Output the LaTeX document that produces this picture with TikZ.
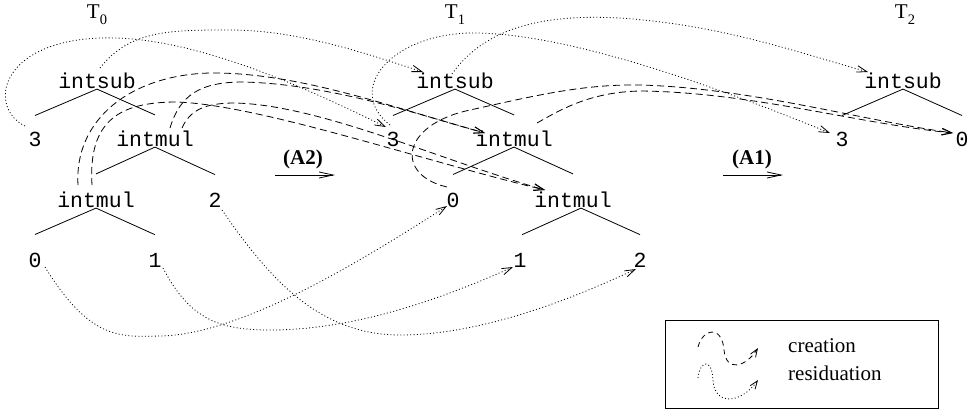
\documentclass[tikz,border=0pt]{standalone}
\usepackage{fontspec}
\setmainfont{Liberation Serif}
\newfontfamily\codefont{Liberation Mono}
\usetikzlibrary{arrows.meta}
\begin{document}
\begin{tikzpicture}[x=1pt,y=-1pt,
  every node/.style={inner sep=0pt,font=\fontsize{21}{25}\selectfont},
  termlabel/.style={font=\codefont\fontsize{21.5}{25}\selectfont},
  treename/.style={font=\fontsize{21}{25}\selectfont},
  rulename/.style={font=\fontsize{21}{25}\selectfont\bfseries},
  branch/.style={line width=0.8pt},
  barbtip/.style={-{Straight Barb[length=10pt,width=6.5pt]}},
  resid/.style={line width=0.8pt,dash pattern=on 1pt off 2.3pt,barbtip},
  creat/.style={line width=0.8pt,dash pattern=on 7pt off 4pt,barbtip},
  rulearrow/.style={line width=0.8pt,-{Straight Barb[length=14pt,width=6pt]}},
]
\useasboundingbox (0,0) rectangle (972,410);

% ---- tree T0 : intsub(3, intmul(intmul(0,1),2))
\node[treename] (T0) at (97,14.5) {T\raisebox{-6pt}{\fontsize{14.5}{14}\selectfont 0}};
\node[termlabel] (t0intsub) at (97,81)  {intsub};
\node[termlabel] (t0three)  at (35,139) {3};
\node[termlabel] (t0mulA)   at (155,139) {intmul};
\node[termlabel] (t0mulB)   at (96,200) {intmul};
\node[termlabel] (t0two)    at (215,200) {2};
\node[termlabel] (t0zero)   at (35,260) {0};
\node[termlabel] (t0one)    at (155,260) {1};
\draw[branch] (t0intsub.south) -- ([yshift=16pt]t0three.north);
\draw[branch] (t0intsub.south) -- ([yshift=16pt]t0mulA.north);
\draw[branch] (t0mulA.south) -- ([yshift=18pt]t0mulB.north);
\draw[branch] (t0mulA.south) -- ([yshift=18pt]t0two.north);
\draw[branch] (t0mulB.south) -- ([yshift=18pt]t0zero.north);
\draw[branch] (t0mulB.south) -- ([yshift=18pt]t0one.north);

% ---- tree T1 : intsub(3, intmul(0, intmul(1,2)))
\node[treename] (T1) at (455,14.5) {T\raisebox{-6pt}{\fontsize{14.5}{14}\selectfont 1}};
\node[termlabel] (t1intsub) at (455,81)  {intsub};
\node[termlabel] (t1three)  at (393,139) {3};
\node[termlabel] (t1mulA)   at (514,139) {intmul};
\node[termlabel] (t1zero)   at (453,200) {0};
\node[termlabel] (t1mulB)   at (573,200) {intmul};
\node[termlabel] (t1one)    at (520,260) {1};
\node[termlabel] (t1two)    at (640,260) {2};
\draw[branch] (t1intsub.south) -- ([yshift=16pt]t1three.north);
\draw[branch] (t1intsub.south) -- ([yshift=16pt]t1mulA.north);
\draw[branch] (t1mulA.south) -- ([yshift=18pt]t1zero.north);
\draw[branch] (t1mulA.south) -- ([yshift=18pt]t1mulB.north);
\draw[branch] ([xshift=8pt]t1mulB.south) -- ([shift={(2,-18)}]t1one.north);
\draw[branch] ([xshift=8pt]t1mulB.south) -- ([yshift=18pt]t1two.north);

% ---- tree T2 : intsub(3, 0)
\node[treename] (T2) at (905,14.5) {T\raisebox{-6pt}{\fontsize{14.5}{14}\selectfont 2}};
\node[termlabel] (t2intsub) at (903,81)  {intsub};
\node[termlabel] (t2three)  at (842,139) {3};
\node[termlabel] (t2zero)   at (962,139) {0};
\draw[branch] (t2intsub.south) -- ([yshift=16pt]t2three.north);
\draw[branch] (t2intsub.south) -- ([yshift=16pt]t2zero.north);

% ---- rewrite steps
\node[rulename] (a2) at (303,159) {(A2)};
\coordinate (a2from) at (275,175);
\coordinate (a2to)   at (335,175);
\draw[rulearrow] (a2from) -- (a2to);
\node[rulename] (a1) at (752,159) {(A1)};
\coordinate (a1from) at (723,175);
\coordinate (a1to)   at (783,175);
\draw[rulearrow] (a1from) -- (a1to);

% ---- residuation T0 -> T1
\draw[resid] ([shift={(-10,-13)}]t0three.center) .. controls (-12,108) and (-2,42) .. (100,38)
  .. controls (190,35) and (300,85) .. ([shift={(-7,-12)}]t1three.center);
\draw[resid] ([shift={(3,-13)}]t0intsub.center) .. controls (130,30) and (170,30) .. (230,30)
  .. controls (300,30) and (370,55) .. ([shift={(-32,-9)}]t1intsub.center);
\draw[resid] ([shift={(10,7)}]t0zero.center) .. controls (90,340) and (120,337) .. (160,336)
  .. controls (240,335) and (360,262) .. ([shift={(-6,6)}]t1zero.center);
\draw[resid] ([shift={(8,8)}]t0one.center) .. controls (190,320) and (220,330) .. (270,330)
  .. controls (360,330) and (450,295) .. ([shift={(-7,7)}]t1one.center);
\draw[resid] ([shift={(7,10)}]t0two.center) .. controls (270,280) and (320,335) .. (400,335)
  .. controls (480,335) and (570,300) .. ([shift={(-4,9)}]t1two.center);

% ---- residuation T1 -> T2
\draw[resid] ([shift={(-3,-14)}]t1three.center) .. controls (345,90) and (390,35) .. (470,33)
  .. controls (560,32) and (700,80) .. ([shift={(-12,-6)}]t2three.center);
\draw[resid] ([shift={(-3,-7)}]t1intsub.center) .. controls (490,20) and (560,15) .. (620,18)
  .. controls (720,25) and (790,50) .. ([shift={(-35,-9)}]t2intsub.center);

% ---- creation T0 -> T1
\draw[creat] ([shift={(-18,-15)}]t0mulB.center) .. controls (74,120) and (130,75) .. (210,73)
  .. controls (300,72) and (400,110) .. ([shift={(-29,-6)}]t1mulA.center);
\draw[creat] ([shift={(-4,-15)}]t0mulB.center) .. controls (88,120) and (120,102) .. (177,102)
  .. controls (260,105) and (420,160) .. ([shift={(-28,-10)}]t1mulB.center);
\draw[creat] ([shift={(15,-11)}]t0mulA.center) .. controls (180,95) and (200,82) .. (243,82)
  .. controls (330,84) and (420,115) .. ([shift={(-29,-6)}]t1mulA.center);
\draw[creat] ([shift={(27,-11)}]t0mulA.center) .. controls (190,110) and (205,103) .. (235,103)
  .. controls (320,105) and (440,160) .. ([shift={(-28,-10)}]t1mulB.center);

% ---- creation T1 -> T2
\draw[creat] ([shift={(-6,-13)}]t1zero.center) .. controls (395,175) and (400,125) .. (470,110)
  .. controls (530,97) and (580,84) .. (640,85)
  .. controls (750,88) and (860,120) .. ([shift={(-9,-6)}]t2zero.center);
\draw[creat] ([shift={(23,-16)}]t1mulA.center) .. controls (560,110) and (590,92) .. (640,91)
  .. controls (750,92) and (860,124) .. ([shift={(-9,-6)}]t2zero.center);

% ---- legend
\node[draw,line width=0.8pt,minimum width=273pt,minimum height=88pt] (legend) at (801.5,364) {};
\node[anchor=base west] (lcre) at (788,352) {creation};
\node[anchor=base west] (lres) at (788,380) {residuation};
\coordinate (lcA) at (698,347);
\coordinate (lcB) at (758,348);
\coordinate (lrA) at (698,378);
\coordinate (lrB) at (758,380);
\draw[line width=0.8pt,dash pattern=on 5pt off 4pt,-{Straight Barb[length=8pt,width=6pt]}]
  (lcA) .. controls (703,328) and (722,325) .. (724,350) .. controls (726,372) and (745,368) .. (lcB);
\draw[line width=0.8pt,dash pattern=on 1pt off 2.3pt,-{Straight Barb[length=8pt,width=6pt]}]
  (lrA) .. controls (700,360) and (712,358) .. (713,380) .. controls (714,405) and (740,405) .. (lrB);
\end{tikzpicture}
\end{document}
